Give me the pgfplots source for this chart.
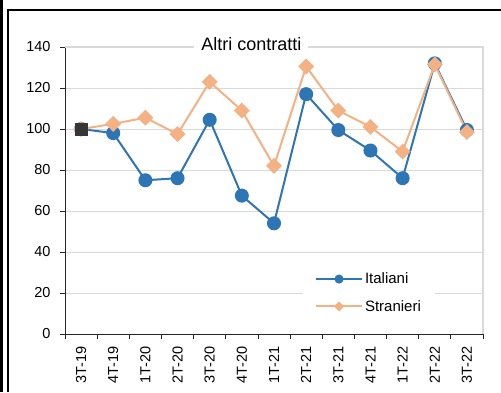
\documentclass[border=0pt]{standalone}
\usepackage{pgfplots}
\pgfplotsset{compat=1.18}
\usepackage{fontspec}
\setmainfont{Liberation Sans}
\definecolor{ita}{HTML}{2E75B6}
\definecolor{str}{HTML}{F4B183}
\definecolor{gridc}{HTML}{D9D9D9}
\definecolor{sq}{HTML}{363636}
\pgfplotsset{
 legita/.style={legend image code/.code={\draw[mark repeat=2,mark phase=2,##1,mark size=3.5pt] plot coordinates {(0pt,0pt) (23pt,0pt) (46pt,0pt)};}},
 legstr/.style={legend image code/.code={\draw[mark repeat=2,mark phase=2,##1,mark size=2.6pt] plot coordinates {(0pt,0pt) (23pt,0pt) (46pt,0pt)};}},
}
\begin{document}
\begin{tikzpicture}[x=1pt,y=1pt]
\path[use as bounding box] (0,0) rectangle (501,392);
\fill[white] (0,0) rectangle (501,392);
\draw[line width=2.5pt] (1.3,0) -- (1.3,392);
\draw[line width=2.2pt] (8,0) -- (8,382) -- (501,382);
\begin{axis}[
 at={(65pt,58pt)}, anchor=south west,
 scale only axis, width=418pt, height=287pt,
 xmin=-0.5, xmax=12.5, ymin=0, ymax=140,
 axis x line*=bottom, axis y line*=left,
 axis line style={draw=black!85, line width=0.9pt, -},
 xtick={-0.5,0.5,...,12.5},
 x tick label as interval,
 xticklabels={3T-19,4T-19,1T-20,2T-20,3T-20,4T-20,1T-21,2T-21,3T-21,4T-21,1T-22,2T-22,3T-22},
 ytick={0,20,...,140},
 ymajorgrids,
 major grid style={gridc, line width=1pt},
 tick align=outside,
 major tick length=5pt,
 tick style={black!85, line width=0.8pt},
 ticklabel style={font=\fontsize{14.5}{17}\selectfont},
 /pgf/number format/assume math mode=true,
 xticklabel style={yshift=-4pt, rotate=90, anchor=east},
 yticklabel style={xshift=-6pt},
 legend style={at={(0.569,0.238)}, anchor=north west, draw=none, fill=white,
   font=\fontsize{15}{18}\selectfont, row sep=11pt, inner xsep=12pt, inner ysep=5pt},
 legend cell align=left,
 clip=false,
]
\draw[gridc, line width=2pt] (rel axis cs:0,1) -- (rel axis cs:1,1) -- (rel axis cs:1,0);
\addplot[ita, line width=2pt, mark=*, mark size=6pt, mark options={solid, fill=ita, draw=ita}, legita]
 coordinates {(0,100) (1,98) (2,75) (3,76) (4,104.5) (5,67.5) (6,54) (7,117) (8,99.5) (9,89.5) (10,76) (11,132) (12,99.5)};
\addlegendentry{Italiani}
\addplot[str, line width=2pt, mark=square*, mark size=4.6pt, mark options={solid, rotate=45, fill=str, draw=str}, legstr]
 coordinates {(0,100) (1,102.5) (2,105.5) (3,97.5) (4,123) (5,109) (6,82) (7,130.5) (8,109) (9,101) (10,89) (11,131.5) (12,98.5)};
\addlegendentry{Stranieri}
\addplot[forget plot, only marks, mark=square*, mark size=5.8pt, mark options={fill=sq, draw=sq}] coordinates {(0,100)};
\node[fill=white, inner xsep=7pt, inner ysep=3pt, anchor=base, font=\fontsize{18}{21}\selectfont, yshift=-3pt] at (rel axis cs:0.446,1) {Altri contratti};
\end{axis}
\end{tikzpicture}
\end{document}
